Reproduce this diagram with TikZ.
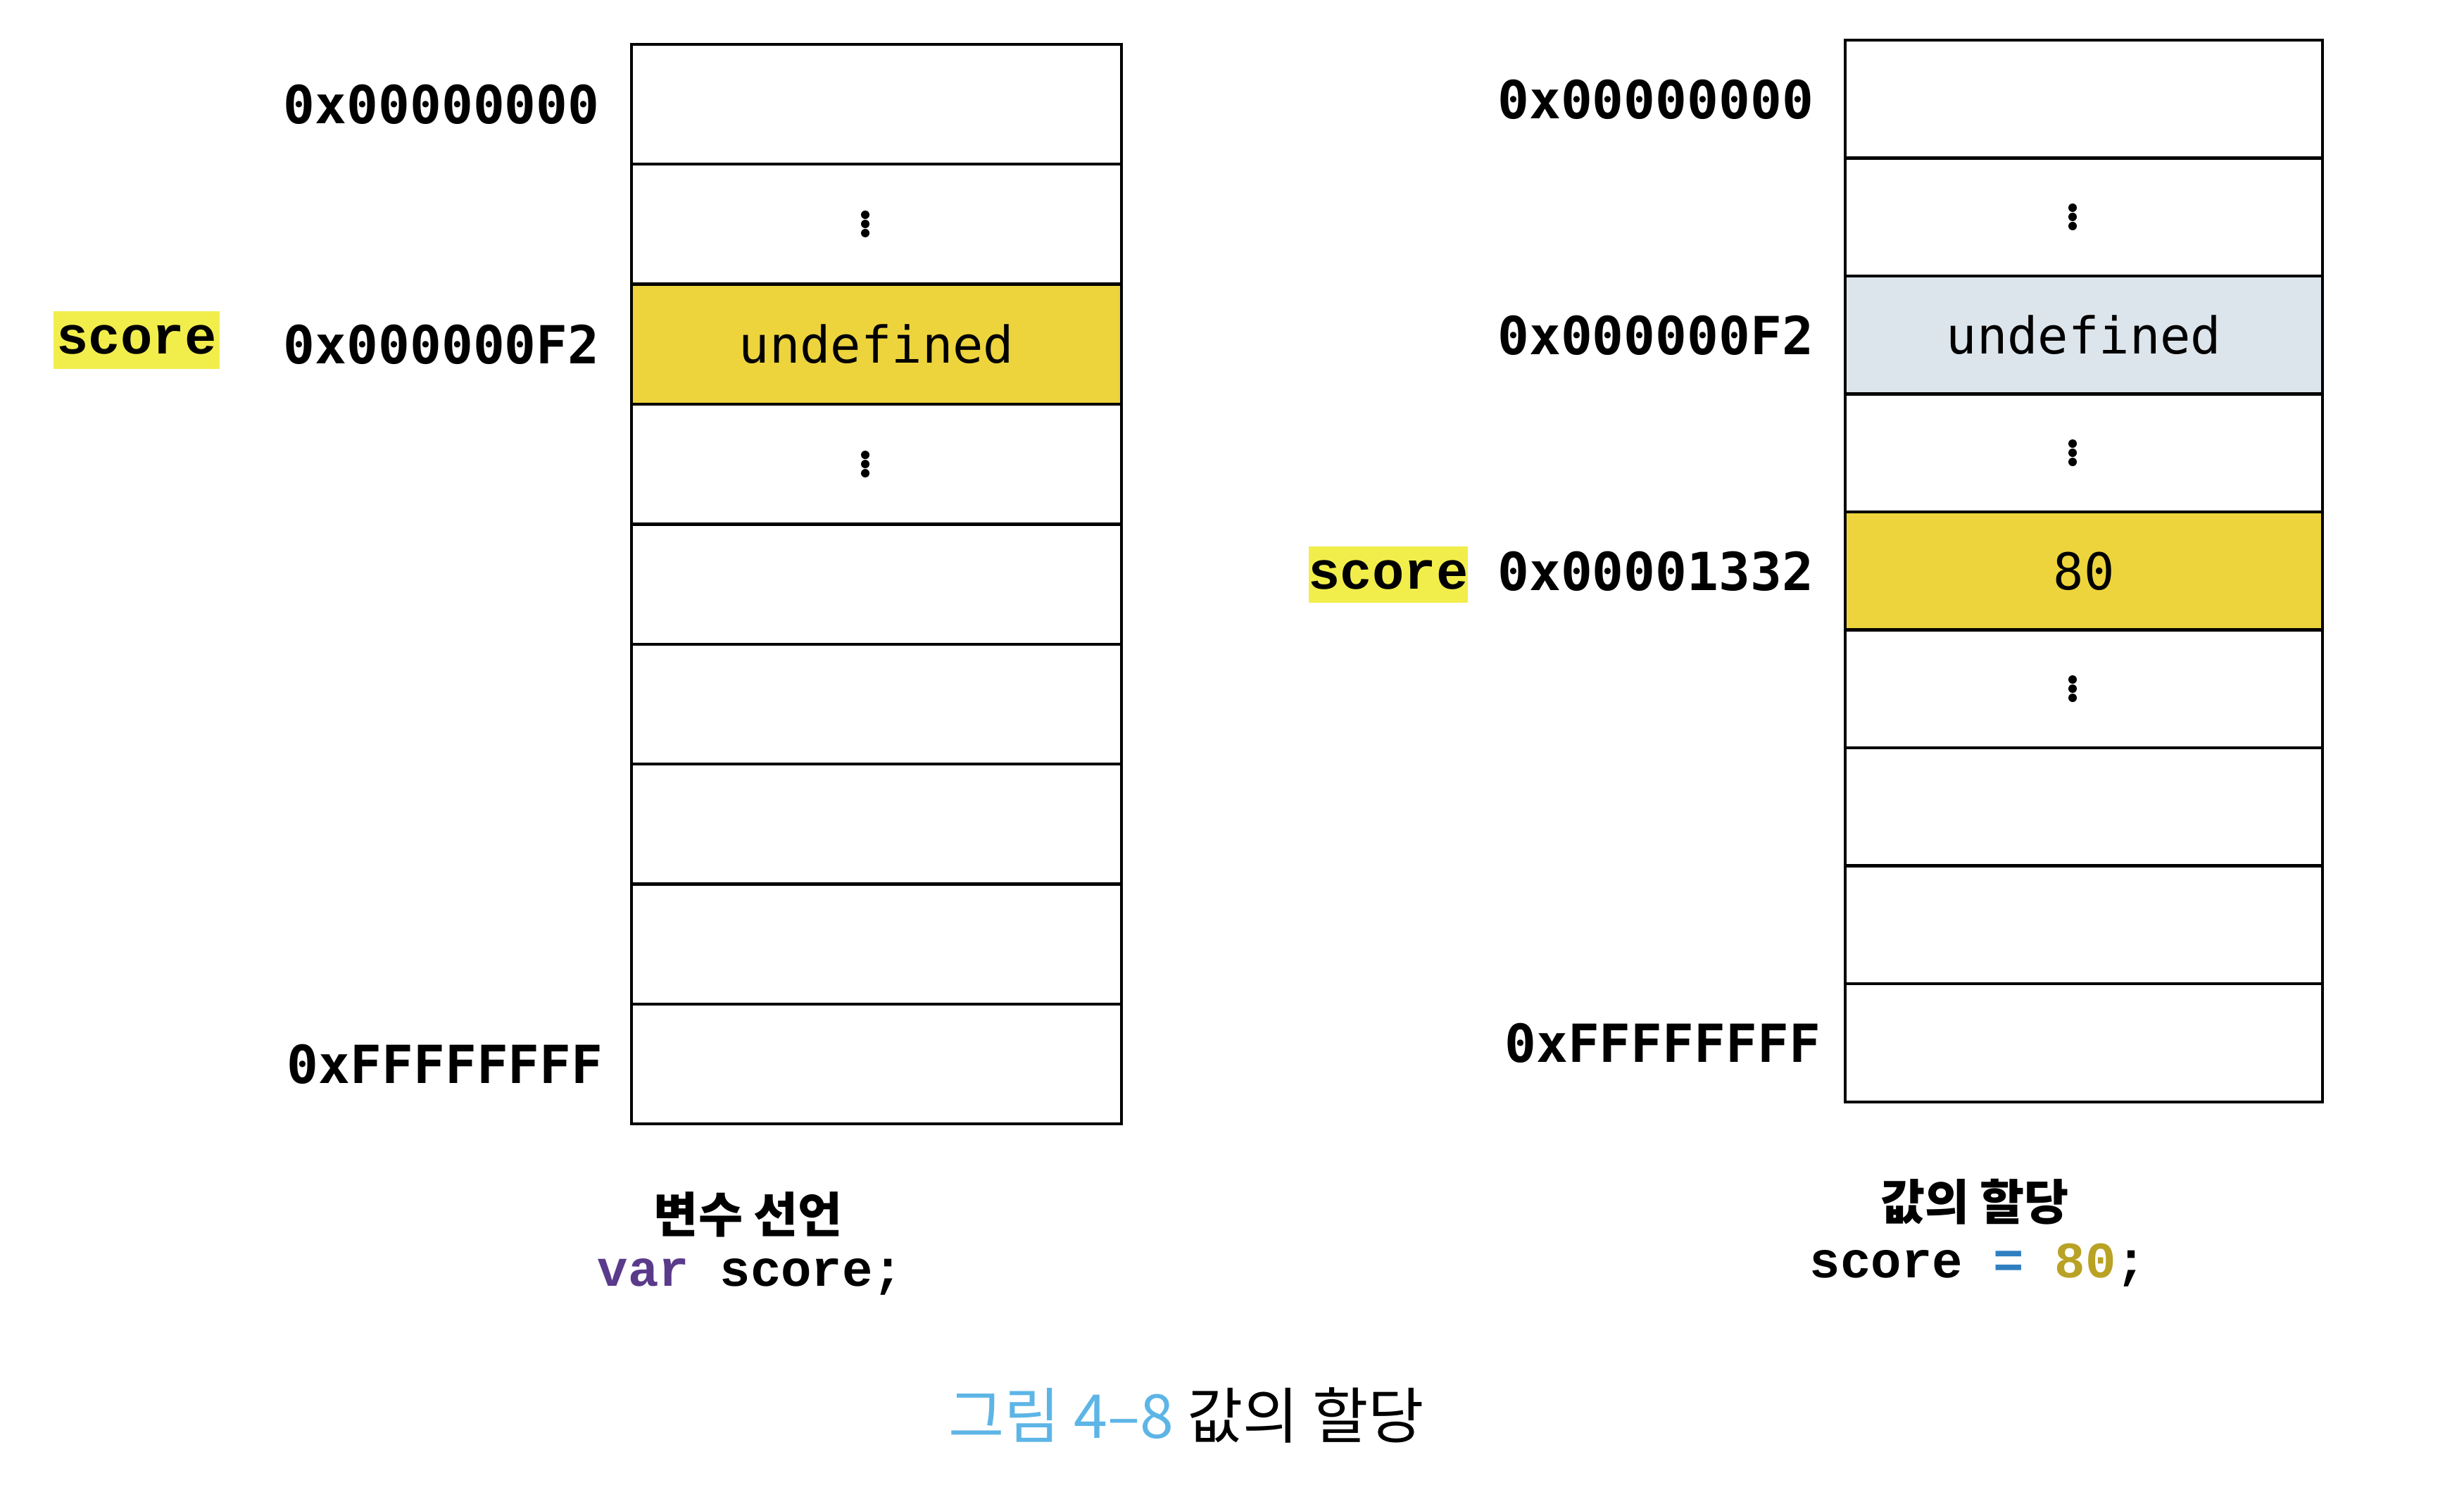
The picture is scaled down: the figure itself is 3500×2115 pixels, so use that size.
\documentclass[tikz,border=0pt]{standalone}
\usepackage{fontspec}
\newfontfamily\addrfont{DejaVu Sans Mono}
\newfontfamily\addrbold{DejaVu Sans Mono Bold}
\newfontfamily\codefont{Liberation Mono}
\newfontfamily\krfont{Noto Sans CJK KR}
\definecolor{cellyellow}{HTML}{EDD43C}
\definecolor{cellblue}{HTML}{DDE5EC}
\definecolor{hilite}{HTML}{F1EE4C}
\definecolor{kwpurple}{HTML}{5A3A8A}
\definecolor{opblue}{HTML}{2F7FC1}
\definecolor{numolive}{HTML}{B9A224}
\definecolor{capblue}{HTML}{5DB5E6}
\tikzset{
  cellL/.style={draw=black, line width=1.2pt, minimum width=6.95cm, minimum height=1.704cm, inner sep=0pt, outer sep=0pt, font=\addrfont\fontsize{20.5}{22}\selectfont},
  cellR/.style={draw=black, line width=1.2pt, minimum width=6.78cm, minimum height=1.675cm, inner sep=0pt, outer sep=0pt, font=\addrfont\fontsize{20.5}{22}\selectfont},
  addr/.style={anchor=east, inner sep=0pt, font=\addrbold\fontsize{21.2}{23}\selectfont},
  varlabel/.style={fill=hilite, inner sep=0pt, minimum width=2.2cm, minimum height=0.82cm, font=\codefont\bfseries\fontsize{21.5}{23}\selectfont},
  krcap/.style={inner sep=0pt, font=\krfont\bfseries\fontsize{19.5}{22}\selectfont},
  codecap/.style={inner sep=0pt, font=\codefont\bfseries\fontsize{20.6}{22}\selectfont},
  figcap/.style={inner sep=0pt, font=\krfont\fontsize{24.5}{27}\selectfont},
  dot/.style={fill=black}
}
\begin{document}
\begin{tikzpicture}[x=0.01cm,y=-0.01cm]
\useasboundingbox (0,0) rectangle (3500,2115);
\fill[white] (0,0) rectangle (3500,2115);

% left memory table
\node[cellL] (L1) at (1245,148) {};
\node[cellL] (L2) at (1245,318) {};
\node[cellL, fill=cellyellow] (L3) at (1245,489) {undefined};
\node[cellL] (L4) at (1245,659) {};
\node[cellL] (L5) at (1245,830) {};
\node[cellL] (L6) at (1245,1000) {};
\node[cellL] (L7) at (1245,1170) {};
\node[cellL] (L8) at (1245,1341) {};
\node[cellL] (L9) at (1245,1511) {};

% right memory table
\node[cellR] (R1) at (2960,141) {};
\node[cellR] (R2) at (2960,308) {};
\node[cellR, fill=cellblue] (R3) at (2960,476) {undefined};
\node[cellR] (R4) at (2960,643) {};
\node[cellR, fill=cellyellow] (R5) at (2960,811) {80};
\node[cellR] (R6) at (2960,978) {};
\node[cellR] (R7) at (2960,1146) {};
\node[cellR] (R8) at (2960,1313) {};
\node[cellR] (R9) at (2960,1481) {};

% vertical ellipses
\foreach \c in {L2,L4,R2,R4,R6}{
  \foreach \d in {-13,0,13}{
    \fill[dot] ([shift={(-16,\d)}]\c.center) circle (0.06cm);
  }
}

% address labels
\node[addr] (aL1) at ([xshift=-0.45cm]L1.west) {0x00000000};
\node[addr] (aL3) at ([xshift=-0.45cm]L3.west) {0x000000F2};
\node[addr] (aL9) at ([xshift=-0.40cm]L9.west) {0xFFFFFFFF};
\node[addr] (aR1) at ([xshift=-0.44cm]R1.west) {0x00000000};
\node[addr] (aR3) at ([xshift=-0.44cm]R3.west) {0x000000F2};
\node[addr] (aR5) at ([xshift=-0.44cm]R5.west) {0x00001332};
\node[addr] (aR9) at ([xshift=-0.34cm]R9.west) {0xFFFFFFFF};

% variable name labels
\node[varlabel, minimum width=2.36cm] (sL) at (194,483) {score};
\node[varlabel, minimum width=2.11cm, minimum height=0.80cm] (sR) at (1972,816) {score};

% captions under tables
\node[krcap] (kL) at (1063,1725) {변수 선언};
\node[codecap] (cL) at (1066,1813) {\textcolor{kwpurple}{var} score;};
\node[krcap] (kR) at (2805,1707) {값의 할당};
\node[codecap] (cR) at (2810,1797) {score \textcolor{opblue}{=} \textcolor{numolive}{80};};

% figure caption
\node[figcap] (fig) at (1685,2010) {\textcolor{capblue}{그림 4–8} 값의 할당};
\end{tikzpicture}
\end{document}
